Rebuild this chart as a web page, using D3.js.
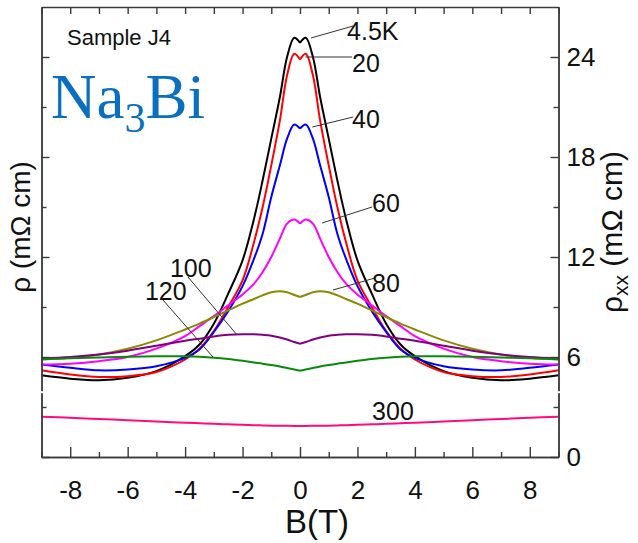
<!DOCTYPE html>
<html>
<head>
<meta charset="utf-8">
<script src="https://cdn.jsdelivr.net/npm/d3@7"></script>
<style>
  html, body { margin: 0; padding: 0; background: #fff; }
  svg { display: block; }
  .axis path, .axis line { stroke: #3a3a3a; stroke-width: 1.4; }
  .axis text { font-family: "Liberation Sans", Arial, sans-serif; font-size: 26px; fill: #111; }
</style>
</head>
<body>
<svg id="chart" width="638" height="543"></svg>
<script>
// Magnetic field sweep (T)
const fieldB = [-9,-8,-7,-6,-5,-4,-3.5,-3,-2.5,-2,-1.6,-1.3,-1,-0.7,-0.45,-0.2,0,
                0.2,0.45,0.7,1,1.3,1.6,2,2.5,3,3.5,4,5,6,7,8,9];

// Longitudinal resistivity rho_xx (mOhm cm) at each temperature
const rho4p5K = [4.9,4.7,4.6,4.75,5.15,6.05,6.75,8.0,9.8,11.8,14.3,16.6,19.1,21.6,24.0,25.15,24.85,
                 25.15,24.0,21.6,19.1,16.6,14.3,11.8,9.8,8.0,6.75,6.05,5.15,4.75,4.6,4.7,4.9];
const rho20K  = [5.2,4.95,4.8,4.85,5.1,5.85,6.5,7.55,9.0,10.6,12.9,15.0,17.5,20.2,22.9,24.2,23.85,
                 24.2,22.9,20.2,17.5,15.0,12.9,10.6,9.0,7.55,6.5,5.85,5.1,4.85,4.8,4.95,5.2];
const rho40K  = [5.55,5.35,5.2,5.25,5.45,5.95,6.45,7.5,8.75,10.25,11.9,13.4,15.6,17.5,19.1,19.95,19.7,
                 19.95,19.1,17.5,15.6,13.4,11.9,10.25,8.75,7.5,6.45,5.95,5.45,5.25,5.2,5.35,5.55];
const rho60K  = [5.55,5.6,5.75,6.0,6.5,7.25,7.85,8.45,9.1,9.75,10.4,11.1,12.0,13.1,14.0,14.25,14.0,
                 14.25,14.0,13.1,12.0,11.1,10.4,9.75,9.1,8.45,7.85,7.25,6.5,6.0,5.75,5.6,5.55];
const rho80K  = [5.85,5.95,6.15,6.5,7.0,7.65,8.0,8.4,8.8,9.2,9.48,9.7,9.88,9.95,9.88,9.72,9.6,
                 9.72,9.88,9.95,9.88,9.7,9.48,9.2,8.8,8.4,8.0,7.65,7.0,6.5,6.15,5.95,5.85];
const rho100K = [5.92,6.0,6.15,6.38,6.68,6.97,7.1,7.23,7.33,7.37,7.36,7.33,7.28,7.17,7.05,6.9,6.8,
                 6.9,7.05,7.17,7.28,7.33,7.36,7.37,7.33,7.23,7.1,6.97,6.68,6.38,6.15,6.0,5.92];
const rho120K = [5.86,5.92,5.97,6.02,6.05,6.04,6.01,5.96,5.88,5.77,5.67,5.6,5.52,5.43,5.34,5.25,5.18,
                 5.25,5.34,5.43,5.52,5.6,5.67,5.77,5.88,5.96,6.01,6.04,6.05,6.02,5.97,5.92,5.86];
const rho300K = [2.42,2.35,2.28,2.21,2.13,2.06,2.025,1.99,1.96,1.93,1.91,1.895,1.88,1.875,1.87,1.865,1.86,
                 1.865,1.87,1.875,1.88,1.895,1.91,1.93,1.96,1.99,2.025,2.06,2.13,2.21,2.28,2.35,2.42];

const tempLabels = ["4.5K","20","40","60","80","100","120","300"];
const seriesValues = [rho4p5K, rho20K, rho40K, rho60K, rho80K, rho100K, rho120K, rho300K];
const seriesColors = ["#000000","#ff0000","#0000ff","#ff00ff","#8a8a00","#800080","#0a8a0a","#ff0a80"];

// Tick values
const xMajorTicks = [-8,-6,-4,-2,0,2,4,6,8];
const xMinorTicks = [-9,-7,-5,-3,-1,1,3,5,7,9];
const xTopTicks = d3.range(-9, 10, 1);
const yMajorTicks = [0,6,12,18,24];
const yMinorTicks = [3,9,15,21];

// Label text anchors and leader lines, in data units (B, rho)
const labelText = [[1.64,25.0],[1.81,23.1],[1.81,19.74],[2.51,14.7],[2.51,9.9],[-4.53,10.8],[-5.4,9.42],[2.51,2.22]];
const leaderFrom = [[0.38,25.14],[0.19,24.0],[0.43,19.8],[0.77,14.04],[1.15,10.02],[-3.9,10.8],[-4.77,9.42],null];
const leaderTo   = [[1.85,25.86],[1.81,24.0],[1.85,20.4],[2.51,15.0],[2.61,10.74],[-2.19,7.32],[-3.03,6.0],null];

const svg = d3.select("#chart");
const x = d3.scaleLinear().domain([-9, 9]).range([41.5, 558.5]);
const y = d3.scaleLinear().domain([0, 27]).range([457, 7]);

// Curves: each side of B = 0 is drawn separately so the zero-field dip stays sharp
const line = d3.line()
  .x(d => x(d[0]))
  .y(d => y(d[1]))
  .curve(d3.curveCatmullRom.alpha(0.5));

const curves = svg.append("g").attr("class", "curves");
seriesValues.forEach((vals, i) => {
  const pts = fieldB.map((b, k) => [b, vals[k]]);
  const mid = fieldB.indexOf(0);
  const d = line(pts.slice(0, mid + 1)) + line(pts.slice(mid));
  curves.append("path")
    .attr("d", d)
    .attr("fill", "none")
    .attr("stroke", seriesColors[i])
    .attr("stroke-width", 2)
    .attr("stroke-linejoin", "round");
});

// Axes (ticks point into the plot)
const gx = svg.append("g").attr("class", "axis").attr("transform", `translate(0,${y(0)})`);
gx.call(d3.axisBottom(x).tickValues(xMajorTicks).tickSizeInner(-10).tickSizeOuter(0).tickPadding(24)
  .tickFormat(d => d < 0 ? "-" + Math.abs(d) : String(d)));
svg.append("g").attr("class", "axis").attr("transform", `translate(0,${y(0)})`)
  .call(d3.axisBottom(x).tickValues(xMinorTicks).tickSizeInner(-5).tickSizeOuter(0).tickFormat(""));
svg.append("g").attr("class", "axis").attr("transform", `translate(0,${y(27)})`)
  .call(d3.axisTop(x).tickValues(xTopTicks).tickSizeInner(-7).tickSizeOuter(0).tickFormat(""));

svg.append("g").attr("class", "axis").attr("transform", `translate(${x(-9)},0)`)
  .call(d3.axisLeft(y).tickValues(yMajorTicks).tickSizeInner(-8).tickSizeOuter(0).tickFormat(""));
svg.append("g").attr("class", "axis").attr("transform", `translate(${x(-9)},0)`)
  .call(d3.axisLeft(y).tickValues(yMinorTicks).tickSizeInner(-5).tickSizeOuter(0).tickFormat(""));

svg.append("g").attr("class", "axis").attr("transform", `translate(${x(9)},0)`)
  .call(d3.axisRight(y).tickValues(yMajorTicks).tickSizeInner(-8).tickSizeOuter(0).tickPadding(8));
svg.append("g").attr("class", "axis").attr("transform", `translate(${x(9)},0)`)
  .call(d3.axisRight(y).tickValues(yMinorTicks).tickSizeInner(-5).tickSizeOuter(0).tickFormat(""));

// Small breaks in both vertical axes
[x(-9), x(9)].forEach(px => {
  svg.append("rect").attr("x", px - 2).attr("y", y(3.95)).attr("width", 4).attr("height", 2).attr("fill", "#fff");
});

// Axis titles
const sans = '"Liberation Sans", Arial, sans-serif';
svg.append("text")
  .attr("x", 317).attr("y", 533)
  .attr("text-anchor", "middle")
  .attr("font-family", sans).attr("font-size", 33).attr("fill", "#111")
  .text("B(T)");

svg.append("text")
  .attr("transform", "translate(30,227) rotate(-90)")
  .attr("text-anchor", "middle")
  .attr("font-family", sans).attr("font-size", 28).attr("fill", "#111")
  .text("ρ (mΩ cm)");

const rt = svg.append("text")
  .attr("transform", "translate(622,232) rotate(-90)")
  .attr("text-anchor", "middle")
  .attr("font-family", sans).attr("font-size", 30).attr("fill", "#111");
rt.append("tspan").text("ρ");
rt.append("tspan").attr("font-size", 21).attr("dy", 6).text("xx");
rt.append("tspan").attr("dy", -6).text(" (mΩ cm)");

// Sample annotations
svg.append("text")
  .attr("x", 67).attr("y", 45)
  .attr("font-family", sans).attr("font-size", 22).attr("fill", "#111")
  .text("Sample J4");

const formula = svg.append("text")
  .attr("x", 51).attr("y", 118)
  .attr("font-family", '"Liberation Serif", "Times New Roman", serif')
  .attr("font-size", 63).attr("fill", "#0a6fc0");
formula.append("tspan").text("Na");
formula.append("tspan").attr("font-size", 42).attr("dy", 14).text("3");
formula.append("tspan").attr("dy", -14).text("Bi");

// Temperature labels with leader lines
const labels = svg.append("g").attr("class", "labels");
tempLabels.forEach((t, i) => {
  if (leaderFrom[i]) {
    labels.append("line")
      .attr("x1", x(leaderFrom[i][0])).attr("y1", y(leaderFrom[i][1]))
      .attr("x2", x(leaderTo[i][0])).attr("y2", y(leaderTo[i][1]))
      .attr("stroke", "#333").attr("stroke-width", 1);
  }
  labels.append("text")
    .attr("x", x(labelText[i][0])).attr("y", y(labelText[i][1]))
    .attr("font-family", sans).attr("font-size", 25).attr("fill", "#111")
    .text(t);
});
</script>
</body>
</html>
